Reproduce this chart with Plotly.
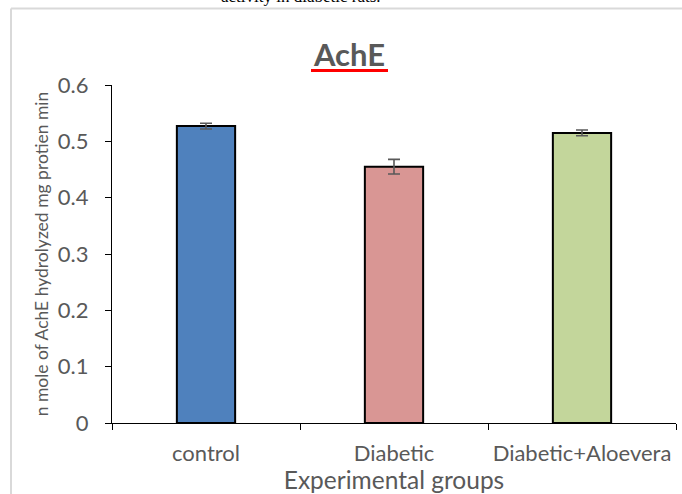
import plotly.graph_objects as go

categories = ["control", "Diabetic", "Diabetic+Aloevera"]
values = [0.527, 0.455, 0.515]
errors = [0.005, 0.013, 0.005]
colors = ["#4F81BD", "#D99694", "#C3D69B"]
y_ticks = [0, 0.1, 0.2, 0.3, 0.4, 0.5, 0.6]

W, H = 682, 494
L, R, T, B = 112, 6, 85, 71
pw, ph = W - L - R, H - T - B

def px(x):
    return (x - L) / pw

def py(y):
    return (H - B - y) / ph

FONT = "Lato"
GREY = "#595959"

fig = go.Figure()
fig.add_trace(go.Bar(
    x=categories, y=values, width=0.31,
    marker=dict(color=colors, line=dict(color="black", width=2)),
    error_y=dict(type="data", array=errors, visible=True, color=GREY, thickness=1.6, width=6),
))

fig.update_layout(
    width=W, height=H,
    margin=dict(l=L, r=R, t=T, b=B),
    paper_bgcolor="white", plot_bgcolor="white",
    showlegend=False,
    font=dict(family=FONT, color=GREY),
    xaxis=dict(
        type="category", range=[-0.5, 2.5], automargin=False, tickangle=0,
        showline=True, linecolor="black", linewidth=1.3,
        ticks="outside", tickson="boundaries", ticklen=6, tickcolor="black", tickwidth=1.3,
        tickfont=dict(size=22, color=GREY, family=FONT),
        ticklabelstandoff=10,
        title=dict(text="Experimental groups", font=dict(size=24.5, color=GREY, family=FONT), standoff=2),
        showgrid=False,
    ),
    yaxis=dict(
        range=[0, 0.6], tickvals=y_ticks, ticktext=[f"{v:g}" for v in y_ticks], automargin=False,
        showline=True, linecolor="black", linewidth=1.3,
        ticks="outside", ticklen=6, tickcolor="black", tickwidth=1.3,
        tickfont=dict(size=22, color=GREY, family=FONT),
        ticklabelstandoff=12,
        title=dict(text="n mole of AchE hydrolyzed mg protien min", font=dict(size=17.5, color=GREY, family=FONT), standoff=4),
        showgrid=False, zeroline=False,
    ),
    annotations=[
        dict(text="<b>AchE</b>", xref="paper", yref="paper", x=px(349), y=py(54),
             xanchor="center", yanchor="middle", showarrow=False,
             font=dict(size=31, color=GREY, family=FONT)),
        dict(text="activity in diabetic rats.", xref="paper", yref="paper", x=px(301), y=py(8),
             xanchor="center", yanchor="bottom", showarrow=False,
             font=dict(size=17, color="black", family="Liberation Serif")),
    ],
    shapes=[
        dict(type="line", xref="paper", yref="paper", x0=px(311), x1=px(388), y0=py(70.5), y1=py(70.5),
             line=dict(color="#FF0000", width=3)),
        dict(type="line", xref="paper", yref="paper", x0=px(11), x1=px(W + 5), y0=py(8.5), y1=py(8.5),
             line=dict(color="#D9D9D9", width=2)),
        dict(type="line", xref="paper", yref="paper", x0=px(11), x1=px(11), y0=py(8.5), y1=py(H + 5),
             line=dict(color="#D9D9D9", width=2)),
    ],
)

fig.write_html("out.html", config={"displayModeBar": False},
               post_script="document.body.style.margin='0';document.body.style.overflow='hidden';")
